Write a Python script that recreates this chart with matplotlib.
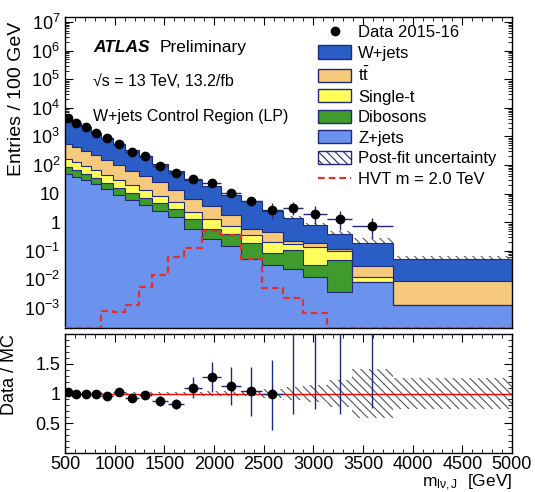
import numpy as np
import matplotlib
matplotlib.use('Agg')
import matplotlib.pyplot as plt
from matplotlib.ticker import LogLocator, MultipleLocator, FixedLocator, FuncFormatter, NullFormatter
from matplotlib.patches import Patch
from matplotlib.lines import Line2D

plt.rcParams['font.family'] = ['Liberation Sans', 'DejaVu Sans']
plt.rcParams['mathtext.fontset'] = 'custom'
plt.rcParams['mathtext.rm'] = 'Liberation Sans'
plt.rcParams['mathtext.it'] = 'Liberation Sans:italic'
plt.rcParams['mathtext.bf'] = 'Liberation Sans:bold'
plt.rcParams['hatch.linewidth'] = 0.8

# bin edges in GeV, values are entries / 100 GeV
edges = [500, 570, 660, 760, 860, 980, 1100, 1240, 1380, 1540, 1700, 1880,
         2070, 2270, 2480, 2690, 2900, 3140, 3390, 3800, 5000]

wjets = [3905, 2584, 1773, 1125, 740, 439, 260.5, 162.5, 84.5, 49.9, 23.9, 14.4,
         7.30, 4.77, 2.06, 1.23, 0.646, 0.286, 0.161, 0.045]
ttbar = [400, 311, 223, 158, 106, 67.5, 43.1, 28.5, 16.6, 8.2, 4.02, 2.48,
         1.10, 0.248, 0.243, 0.041, 0.045, 0.012, 0.0172, 0.00745]
singlet = [77, 58, 43.2, 30.6, 21.2, 14.0, 9.3, 5.94, 3.83, 2.13, 0.97, 0.715,
           0.344, 0.169, 0.119, 0.068, 0.110, 0.053, 0.0040, 0.0]
diboson = [37, 29, 20.6, 14.6, 10.4, 6.9, 4.7, 3.26, 2.17, 1.40, 0.715, 0.34,
           0.229, 0.136, 0.0535, 0.0857, 0.0183, 0.0431, 0.0, 0.0]
zjets = [48, 39, 29.5, 20.9, 14.1, 9.3, 6.0, 4.0, 2.51, 1.48, 0.60, 0.263,
         0.151, 0.050, 0.0316, 0.024, 0.0126, 0.0037, 0.0083, 0.00126]

data = [4570, 3020, 2090, 1350, 870, 550, 295, 200, 95, 52, 33, 23.4,
        10.2, 5.6, 2.6, 3.1, 2.0, 1.35, 0.74, np.nan]
data_lo = [81, 57, 46, 37, 27, 21, 15, 12, 7.7, 5.7, 4.3, 3.5,
           2.3, 1.6, 1.3, 1.3, 1.1, 0.8, 0.45, np.nan]
data_hi = [81, 57, 46, 37, 27, 21, 15, 12, 7.7, 5.7, 4.3, 3.5,
           2.3, 1.8, 2.2, 1.8, 1.6, 1.2, 0.65, np.nan]

hvt = [0, 0, 0, 0, 7.6e-4, 7.0e-4, 1.26e-3, 5.5e-3, 0.014, 0.062, 0.13, 0.50,
       0.35, 0.05, 5.2e-3, 2.2e-3, 6.8e-4, 0, 0, 0]

ratio = [1.02, 1.0, 1.0, 1.0, 0.96, 1.03, 0.92, 0.98, 0.87, 0.82, 1.10, 1.28,
         1.13, 1.05, 0.99, 2.2, 2.6, 3.3, 3.8, np.nan]
ratio_lo = [0.02, 0.02, 0.02, 0.03, 0.03, 0.04, 0.05, 0.06, 0.08, 0.08, 0.17, 0.25,
            0.32, 0.42, 0.61, 1.55, 1.86, 2.65, 3.04, np.nan]
ratio_hi = [0.02, 0.02, 0.02, 0.03, 0.03, 0.04, 0.05, 0.06, 0.08, 0.08, 0.17, 0.25,
            0.31, 0.40, 0.57, 1.5, 1.8, 2.6, 3.0, np.nan]

syst = [0.02, 0.02, 0.02, 0.02, 0.02, 0.02, 0.02, 0.03, 0.03, 0.03, 0.03, 0.04,
        0.04, 0.05, 0.08, 0.11, 0.15, 0.22, 0.42, 0.26]

edges = np.array(edges, dtype=float)
centers = (edges[:-1] + edges[1:]) / 2
halfw = (edges[1:] - edges[:-1]) / 2
syst = np.array(syst)

ymin, ymax = 2e-4, 1.5e7
navy = '#1e2a78'
red = '#e3302f'
hatch = '\\\\\\\\'
names = ['Z+jets', 'Dibosons', 'Single-t', r'$\mathrm{t\bar{t}}$', 'W+jets']
colors = ['#6b93ee', '#3f9b2b', '#ffff5c', '#f6c97c', '#2a5ec6']
comps = [zjets, diboson, singlet, ttbar, wjets]

fig = plt.figure(figsize=(5.35, 4.92), dpi=100)
ax = fig.add_axes([0.1215, 0.3333, 0.8355, 0.6321])
ax2 = fig.add_axes([0.1215, 0.0793, 0.8355, 0.2417])

total = np.sum(comps, axis=0)
ax.stairs(total * (1 + syst), edges, baseline=total * (1 - syst), fill=True,
          facecolor='none', edgecolor='#555555', lw=0, hatch=hatch, zorder=1)

bottom = np.full(len(total), ymin / 10)
for vals, col in zip(comps, colors):
    top = bottom + np.array(vals)
    ax.stairs(top, edges, baseline=bottom, fill=True, color=col, lw=0, zorder=2)
    ax.stairs(top, edges, baseline=None, color=navy, lw=0.8, zorder=3)
    bottom = top

ax.stairs(np.clip(hvt, ymin, None), edges, baseline=None, color=red,
          ls=(0, (3, 1.8)), lw=1.6, zorder=4)

ax.errorbar(centers, data, xerr=halfw, yerr=[data_lo, data_hi], fmt='o',
            color='black', ms=6, ecolor=navy, elinewidth=1, capsize=0, zorder=5)

ax.set_yscale('log')
ax.set_xlim(500, 5000)
ax.set_ylim(ymin, ymax)
ax.yaxis.set_major_locator(LogLocator(base=10, numticks=30))
ax.yaxis.set_minor_locator(LogLocator(base=10, subs=np.arange(2, 10), numticks=300))
ax.yaxis.set_minor_formatter(NullFormatter())


def logfmt(v, pos):
    n = int(round(np.log10(v)))
    if n == 0:
        return '1'
    if n == 1:
        return '10'
    return r'$10^{%d}$' % n


ax.yaxis.set_major_formatter(FuncFormatter(logfmt))
ax.xaxis.set_major_locator(MultipleLocator(500))
ax.xaxis.set_minor_locator(MultipleLocator(100))
ax.tick_params(which='both', direction='in', top=True, right=True,
               labelbottom=False, labelsize=13)
ax.tick_params(which='major', length=6)
ax.tick_params(which='minor', length=3)
ax.set_ylabel('Entries / 100 GeV', loc='top', fontsize=14)
ax.yaxis.set_label_coords(-0.09, 0.985)

ax.text(0.0626, 0.9035, 'ATLAS', transform=ax.transAxes, fontsize=12.5,
        fontweight='bold', fontstyle='italic', va='center')
ax.text(0.2125, 0.9035, 'Preliminary', transform=ax.transAxes, fontsize=12.5,
        va='center')
ax.text(0.0626, 0.792, '√s = 13 TeV, 13.2/fb', transform=ax.transAxes,
        fontsize=11.5, va='center')
ax.text(0.0626, 0.679, 'W+jets Control Region (LP)', transform=ax.transAxes,
        fontsize=11.5, va='center')

handles = [Line2D([], [], marker='o', color='black', ls='none', ms=6)]
labels = ['Data 2015-16']
for name, col in zip(names[::-1], colors[::-1]):
    handles.append(Patch(facecolor=col, edgecolor=navy, lw=1))
    labels.append(name)
handles.append(Patch(facecolor='white', edgecolor=navy, lw=1, hatch=hatch))
labels.append('Post-fit uncertainty')
handles.append(Line2D([], [], color=red, ls=(0, (3, 1.8)), lw=1.6))
labels.append('HVT m = 2.0 TeV')
ax.legend(handles, labels, loc='upper left', bbox_to_anchor=(0.566, 0.975),
          frameon=False, fontsize=12, handlelength=2.0, handleheight=0.84,
          handletextpad=0.4, labelspacing=0.31, borderpad=0, borderaxespad=0)

# ratio panel
ax2.stairs(1 + syst, edges, baseline=1 - syst, fill=True, facecolor='none',
           edgecolor='#555555', lw=0, hatch=hatch, zorder=1)
ax2.axhline(1, color='red', lw=1, zorder=2)
ax2.errorbar(centers, ratio, xerr=halfw, yerr=[ratio_lo, ratio_hi], fmt='o',
             color='black', ms=6, ecolor=navy, elinewidth=1, capsize=0, zorder=5)
ax2.set_xlim(500, 5000)
ax2.set_ylim(0, 2)
ax2.yaxis.set_major_locator(FixedLocator([0.5, 1.0, 1.5]))
ax2.yaxis.set_major_formatter(FuncFormatter(lambda v, p: '%g' % v))
ax2.yaxis.set_minor_locator(MultipleLocator(0.1))
ax2.xaxis.set_major_locator(MultipleLocator(500))
ax2.xaxis.set_minor_locator(MultipleLocator(100))
ax2.tick_params(which='both', direction='in', top=True, right=True, labelsize=13)
ax2.tick_params(axis='x', pad=2)
ax2.tick_params(which='major', length=6)
ax2.tick_params(which='minor', length=3)
ax2.set_ylabel('Data / MC', loc='top', fontsize=13)
ax2.yaxis.set_label_coords(-0.105, 1.0)
ax2.set_xlabel(r'$\mathrm{m}_{\mathrm{l\nu,J}}$  [GeV]', loc='right',
               fontsize=12.5, labelpad=0)

for a in (ax, ax2):
    for s in a.spines.values():
        s.set_linewidth(1)

plt.savefig('out.png', dpi=100)
